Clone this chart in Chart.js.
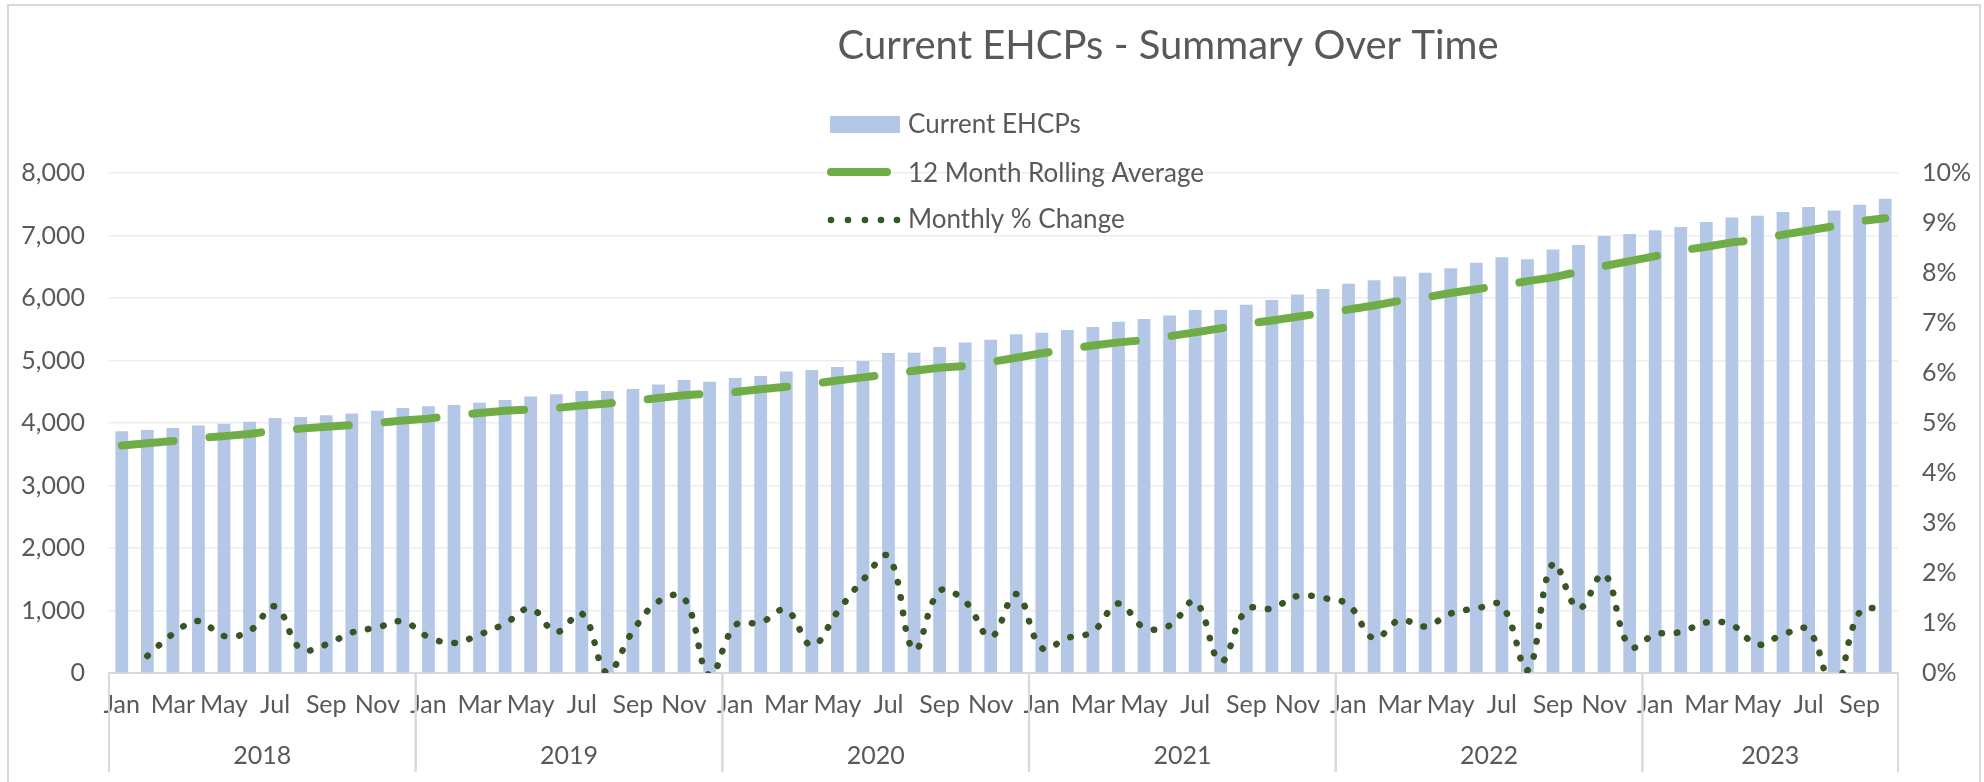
<!DOCTYPE html>
<html>
<head>
<meta charset="utf-8">
<title>Current EHCPs - Summary Over Time</title>
<script src="https://cdn.jsdelivr.net/npm/chart.js@4.4.1/dist/chart.umd.min.js"></script>
<style>
  html, body { margin: 0; padding: 0; background: #ffffff; }
  canvas { display: block; }
</style>
</head>
<body>
<canvas id="myChart" width="1984" height="782"></canvas>
<script>
const years = ['2018', '2019', '2020', '2021', '2022', '2023'];
const monthsPerYear = [12, 12, 12, 12, 12, 10];
const monthNames = ['Jan', 'Feb', 'Mar', 'Apr', 'May', 'Jun', 'Jul', 'Aug', 'Sep', 'Oct', 'Nov', 'Dec'];

const currentEhcps = [
    3870, 3887, 3920, 3959, 3987, 4020, 4081, 4097, 4125, 4152, 4197, 4241,
    4268, 4290, 4324, 4368, 4423, 4462, 4511, 4511, 4544, 4616, 4688, 4660,
    4721, 4754, 4826, 4848, 4898, 4992, 5119, 5124, 5218, 5290, 5334, 5422,
    5444, 5489, 5538, 5621, 5665, 5721, 5809, 5809, 5892, 5969, 6057, 6146,
    6229, 6284, 6345, 6406, 6478, 6566, 6654, 6621, 6776, 6848, 6992, 7025,
    7085, 7135, 7217, 7289, 7317, 7377, 7455, 7400, 7493, 7587
];
const rollingAverage = [
    3640, 3675, 3711, 3758, 3790, 3825, 3880, 3910, 3940, 3967, 4000, 4040,
    4070, 4120, 4160, 4195, 4220, 4240, 4280, 4312, 4355, 4400, 4445, 4470,
    4495, 4540, 4580, 4625, 4680, 4730, 4780, 4835, 4885, 4910, 4975, 5045,
    5115, 5180, 5240, 5290, 5325, 5390, 5450, 5515, 5585, 5640, 5700, 5760,
    5815, 5880, 5955, 6010, 6080, 6140, 6200, 6270, 6330, 6420, 6510, 6590,
    6670, 6760, 6820, 6890, 6930, 7015, 7080, 7150, 7230, 7275
];
// percent
const monthlyChange = [
    null, 0.34, 0.78, 1.04, 0.74, 0.84, 1.33, 0.48, 0.57, 0.81, 0.91, 1.03,
    0.72, 0.60, 0.77, 0.99, 1.29, 0.82, 1.19, 0.00, 0.84, 1.43, 1.50, -0.05,
    0.95, 1.01, 1.26, 0.55, 1.22, 1.86, 2.33, 0.46, 1.64, 1.43, 0.72, 1.58,
    0.50, 0.70, 0.83, 1.39, 0.91, 0.95, 1.43, 0.23, 1.26, 1.29, 1.54, 1.50,
    1.36, 0.69, 1.06, 0.93, 1.19, 1.29, 1.35, 0.05, 2.19, 1.29, 1.98, 0.53,
    0.77, 0.82, 1.01, 0.96, 0.57, 0.77, 0.86, -0.35, 1.22, 1.29
];

const labels = [];
years.forEach((yr, i) => {
    for (let m = 0; m < monthsPerYear[i]; m++) labels.push(monthNames[m]);
});

const textColor = '#595959';
Chart.defaults.font.family = 'Lato';
Chart.defaults.color = textColor;

const chartFrame = {
    id: 'chartFrame',
    beforeDraw: (chart) => {
        const {ctx, width, height} = chart;
        ctx.save();
        ctx.fillStyle = '#ffffff';
        ctx.fillRect(0, 0, width, height);
        ctx.strokeStyle = '#D9D9D9';
        ctx.lineWidth = 2;
        ctx.strokeRect(8, 5, width - 12, height + 20);
        ctx.restore();
    },
    afterDraw: (chart) => {
        const {ctx, chartArea} = chart;
        const xs = chart.scales.x;
        ctx.save();

        // title
        ctx.fillStyle = textColor;
        ctx.font = '40px Lato';
        ctx.textAlign = 'center';
        ctx.textBaseline = 'alphabetic';
        ctx.fillText('Current EHCPs - Summary Over Time', 1168, 59);

        // year boxes under the month labels
        const half = (xs.getPixelForValue(1) - xs.getPixelForValue(0)) / 2;
        ctx.strokeStyle = '#D9D9D9';
        ctx.lineWidth = 2;
        ctx.font = '25px Lato';
        ctx.textBaseline = 'middle';
        let start = 0;
        years.forEach((yr, i) => {
            const end = start + monthsPerYear[i];
            const x0 = xs.getPixelForValue(start) - half;
            const x1 = xs.getPixelForValue(end - 1) + half;
            ctx.beginPath();
            ctx.moveTo(x0, chartArea.bottom);
            ctx.lineTo(x0, 772);
            ctx.moveTo(x1, chartArea.bottom);
            ctx.lineTo(x1, 772);
            ctx.stroke();
            ctx.fillText(yr, (x0 + x1) / 2, 756);
            start = end;
        });

        // legend
        const ds = chart.data.datasets;
        ctx.textAlign = 'left';
        ctx.textBaseline = 'alphabetic';
        ctx.font = '26px Lato';
        ctx.fillStyle = ds[0].backgroundColor;
        ctx.fillRect(830, 116, 70, 17);
        ctx.fillStyle = textColor;
        ctx.fillText(ds[0].label, 908, 133);

        ctx.strokeStyle = ds[1].borderColor;
        ctx.lineWidth = 8;
        ctx.lineCap = 'round';
        ctx.beginPath();
        ctx.moveTo(831, 172);
        ctx.lineTo(887, 172);
        ctx.stroke();
        ctx.fillText(ds[1].label, 908, 182);

        ctx.fillStyle = ds[2].borderColor;
        [831, 848, 865, 881, 897].forEach(px => {
            ctx.beginPath();
            ctx.arc(px, 220, 3.3, 0, Math.PI * 2);
            ctx.fill();
        });
        ctx.fillStyle = textColor;
        ctx.fillText(ds[2].label, 908, 228);

        ctx.restore();
    }
};

const ctx = document.getElementById('myChart');
new Chart(ctx, {
    data: {
        labels: labels,
        datasets: [{
            type: 'bar',
            label: 'Current EHCPs',
            data: currentEhcps,
            backgroundColor: '#B4C7E7',
            barPercentage: 0.5,
            categoryPercentage: 1,
            yAxisID: 'y',
            order: 3,
        }, {
            type: 'line',
            label: '12 Month Rolling Average',
            data: rollingAverage,
            borderColor: '#70AD47',
            borderWidth: 8,
            borderDash: [52, 36],
            borderCapStyle: 'round',
            pointRadius: 0,
            tension: 0,
            yAxisID: 'y',
            order: 2,
        }, {
            type: 'line',
            label: 'Monthly % Change',
            data: monthlyChange,
            borderColor: '#375623',
            borderWidth: 6.5,
            borderDash: [0.5, 15],
            borderCapStyle: 'round',
            pointRadius: 0,
            tension: 0.4,
            yAxisID: 'y1',
            order: 1,
            clip: 0,
        }]
    },
    options: {
        responsive: false,
        animation: false,
        layout: {
            padding: {top: 173, left: 0, right: 0, bottom: 0}
        },
        plugins: {
            legend: {display: false},
            tooltip: {enabled: false},
        },
        scales: {
            x: {
                grid: {display: false},
                border: {color: '#D9D9D9', width: 2},
                ticks: {
                    autoSkip: false,
                    maxRotation: 0,
                    minRotation: 0,
                    padding: 9,
                    color: textColor,
                    font: {size: 25},
                    callback: (v, i) => i % 2 === 0 ? labels[i] : '',
                },
                afterFit: (s) => { s.height = 109; },
            },
            y: {
                min: 0,
                max: 8000,
                ticks: {
                    stepSize: 1000,
                    padding: 24,
                    color: textColor,
                    font: {size: 25},
                    callback: (v) => v.toLocaleString('en-US'),
                },
                grid: {color: '#EDEDED', lineWidth: 1.5, drawTicks: false},
                border: {display: false},
                afterFit: (s) => { s.width = 109; },
            },
            y1: {
                position: 'right',
                min: 0,
                max: 10,
                ticks: {
                    stepSize: 1,
                    padding: 24,
                    color: textColor,
                    font: {size: 25},
                    callback: (v) => v + '%',
                },
                grid: {drawOnChartArea: false, drawTicks: false},
                border: {display: false},
                afterFit: (s) => { s.width = 86; },
            }
        }
    },
    plugins: [chartFrame],
});
</script>
</body>
</html>
